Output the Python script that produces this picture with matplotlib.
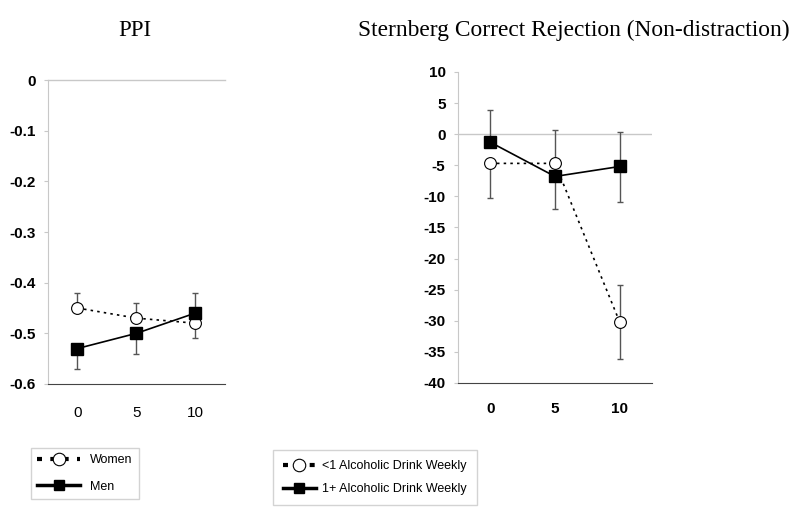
import numpy as np
import matplotlib.pyplot as plt
from matplotlib.lines import Line2D

doses = [0, 5, 10]

# PPI panel (error bars drawn one-sided where the other side is hidden)
ppi_women = [-0.45, -0.47, -0.48]
ppi_women_lo = [0, 0, 0.03]
ppi_women_hi = [0.03, 0.03, 0]
ppi_men = [-0.53, -0.50, -0.46]
ppi_men_lo = [0.04, 0.04, 0]
ppi_men_hi = [0, 0, 0.04]
ppi_ticks = [0, -0.1, -0.2, -0.3, -0.4, -0.5, -0.6]

# Sternberg panel
st_low = [-4.7, -4.7, -30.2]
st_low_lo = [5.6, 0, 5.9]
st_low_hi = [0, 5.3, 5.9]
st_high = [-1.3, -6.8, -5.2]
st_high_lo = [0, 5.2, 5.7]
st_high_hi = [5.2, 0, 5.6]
st_ticks = [10, 5, 0, -5, -10, -15, -20, -25, -30, -35, -40]

serif = 'Liberation Serif'
sans = 'Liberation Sans'


def draw_panel(ax, y1, e1, y2, e2):
    for y, e in [(y1, e1), (y2, e2)]:
        ax.errorbar(doses, y, yerr=e, fmt='none', ecolor='#555555', elinewidth=1,
                    capsize=2.5, capthick=1, zorder=1)
    ax.plot(doses, y1, color='black', linestyle=(0, (1.5, 2.5)), lw=1.2, marker='o',
            markersize=8.5, markerfacecolor='white', markeredgecolor='black',
            markeredgewidth=0.8, zorder=3)
    ax.plot(doses, y2, color='black', linestyle='-', lw=1.2, marker='s', markersize=8,
            markerfacecolor='black', markeredgecolor='black', zorder=4)
    ax.set_xlim(-2.5, 12.5)
    ax.set_xticks(doses)
    for s in ['top', 'right']:
        ax.spines[s].set_visible(False)
    ax.spines['left'].set_color('#c8c8c8')
    ax.spines['bottom'].set_color('#444444')
    ax.tick_params(axis='x', length=0, pad=16)
    ax.tick_params(axis='y', length=3, color='#c8c8c8', pad=6)


fig = plt.figure(figsize=(8, 5.14), dpi=100)

# left panel
ax1 = fig.add_axes([0.06, 0.253, 0.221, 0.591])
draw_panel(ax1, ppi_women, [ppi_women_lo, ppi_women_hi], ppi_men, [ppi_men_lo, ppi_men_hi])
ax1.set_ylim(-0.6, 0)
ax1.set_yticks(ppi_ticks)
ax1.set_yticklabels(['0' if t == 0 else '{:.1f}'.format(t) for t in ppi_ticks],
                    fontfamily=sans, fontweight='bold', fontsize=11)
ax1.set_xticklabels([str(d) for d in doses], fontfamily=sans, fontsize=11)
ax1.axhline(0, color='#c8c8c8', lw=1, zorder=0, clip_on=False)
fig.text(0.169, 0.94, 'PPI', ha='center', va='center', fontfamily=serif, fontsize=16.5)

# right panel
ax2 = fig.add_axes([0.5725, 0.255, 0.2425, 0.605])
draw_panel(ax2, st_low, [st_low_lo, st_low_hi], st_high, [st_high_lo, st_high_hi])
ax2.set_ylim(-40, 10)
ax2.set_yticks(st_ticks)
ax2.set_yticklabels([str(t) for t in st_ticks], fontfamily=sans, fontweight='bold',
                    fontsize=11)
ax2.set_xticklabels([str(d) for d in doses], fontfamily=sans, fontweight='bold',
                    fontsize=11)
ax2.tick_params(axis='x', pad=14)
ax2.axhline(0, color='#c8c8c8', lw=1, zorder=0)
fig.text(0.7175, 0.94, 'Sternberg Correct Rejection (Non-distraction)', ha='center',
         va='center', fontfamily=serif, fontsize=16.8)

# legends
h_open = Line2D([], [], color='black', linestyle=(0, (1.2, 2.0)), lw=3, marker='o',
                markersize=9, markerfacecolor='white', markeredgecolor='black',
                markeredgewidth=0.8)
h_fill = Line2D([], [], color='black', linestyle='-', lw=2.5, marker='s', markersize=7,
                markerfacecolor='black')

leg1 = fig.legend([h_open, h_fill], ['Women', 'Men'], loc='upper left',
                  bbox_to_anchor=(0.039, 0.128), borderaxespad=0, frameon=True,
                  fancybox=False, edgecolor='#c8c8c8', handlelength=3.4,
                  handletextpad=0.8, borderpad=0.5, labelspacing=1.15,
                  prop={'family': sans, 'size': 9})
leg1.get_frame().set_linewidth(1)
leg2 = fig.legend([h_open, h_fill], ['<1 Alcoholic Drink Weekly', '1+ Alcoholic Drink Weekly'],
                  loc='upper left', bbox_to_anchor=(0.341, 0.1245), borderaxespad=0,
                  frameon=True, fancybox=False, edgecolor='#c8c8c8', handlelength=2.6,
                  handletextpad=0.55, borderpad=0.82, labelspacing=0.85,
                  prop={'family': sans, 'size': 9})
leg2.get_frame().set_linewidth(1)

fig.savefig('out.png', dpi=100)
